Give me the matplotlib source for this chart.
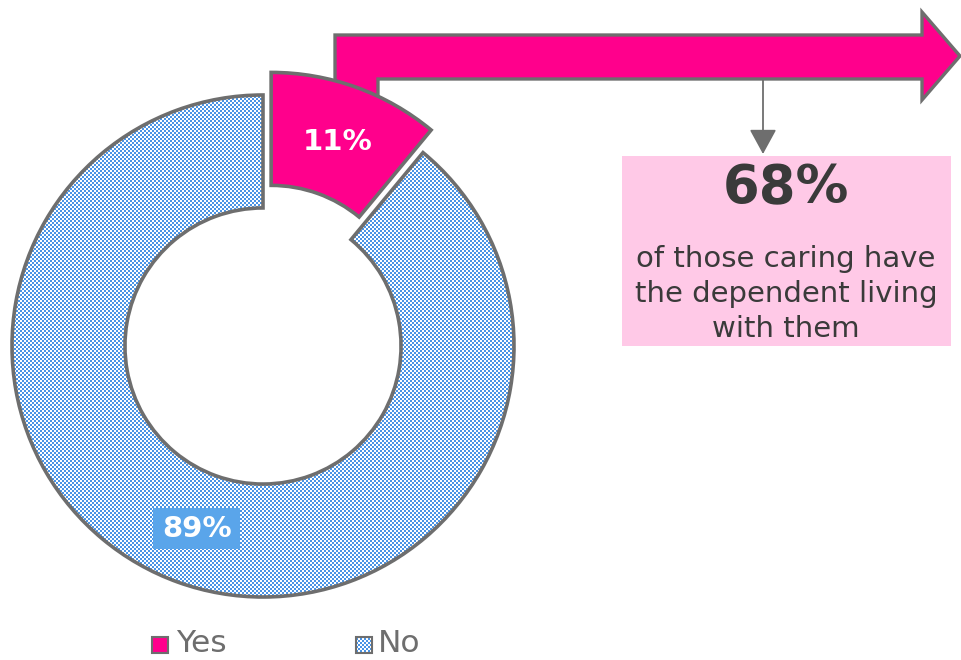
import numpy as np
import matplotlib
matplotlib.use("Agg")
import matplotlib.pyplot as plt
from matplotlib.patches import Polygon, Rectangle, FancyArrowPatch

# Data
categories = ["Yes", "No"]
shares = [11, 89]
share_labels = ["11%", "89%"]
highlight_value = "68%"
highlight_text = ["of those caring have", "the dependent living", "with them"]

PINK = "#FF008C"
BLUE = "#4A94E6"
EDGE = "#6E6E6E"
W, H = 961, 660

fig = plt.figure(figsize=(W / 100, H / 100), dpi=100, facecolor="white")
ax = fig.add_axes([0, 0, 1, 1])


def Y(y):
    # convert top-down pixel rows to axis coordinates
    return H - y


# checkerboard texture used for the "No" fill
ii, jj = np.mgrid[0:H, 0:W]
checks = ((ii // 2 + jj // 2) % 2).astype(bool)
tex = np.ones((H, W, 3))
tex[checks] = np.array(matplotlib.colors.to_rgb(BLUE))

# bent arrow behind the donut
arrow_pts = [(335, 120), (335, 35), (922, 35), (922, 12), (960, 56),
             (922, 100), (922, 79), (378, 79), (378, 120)]
ax.add_patch(Polygon([(x, Y(y)) for x, y in arrow_pts], closed=True,
                     facecolor=PINK, edgecolor=EDGE, linewidth=2.4,
                     joinstyle="miter", zorder=1))

# donut
radius = 251
wedges, _ = ax.pie(shares, startangle=90, counterclock=False, radius=radius,
                   center=(263, Y(346)), explode=[24, 0],
                   colors=[PINK, "none"],
                   wedgeprops=dict(width=radius * 0.45, edgecolor=EDGE,
                                   linewidth=2.6))
ax.set_xlim(0, W)
ax.set_ylim(0, H)
ax.set_aspect("equal")
ax.axis("off")
for w in wedges:
    w.set_zorder(3)
im = ax.imshow(tex, extent=(0, W, 0, H), origin="upper",
               interpolation="nearest", zorder=2)
im.set_clip_path(wedges[1])

# slice labels
ax.text(338, Y(142), share_labels[0], color="white", fontsize=21,
        fontweight="bold", ha="center", va="center", zorder=5)
ax.add_patch(Rectangle((153, Y(549)), 87, 41, facecolor="#5AA5EA",
                       edgecolor="none", zorder=4))
ax.text(197, Y(529), share_labels[1], color="white", fontsize=21,
        fontweight="bold", ha="center", va="center", zorder=5)

# connector and callout box
ax.add_patch(FancyArrowPatch((763, Y(80)), (763, Y(154)),
                             arrowstyle="-|>,head_length=1.1,head_width=0.6",
                             mutation_scale=14, color=EDGE, linewidth=1.3,
                             shrinkA=0, shrinkB=0, zorder=4))
ax.add_patch(Rectangle((622, Y(346)), 329, 190, facecolor="#FFC9E7",
                       edgecolor="none", zorder=1))
ax.text(786, Y(188), highlight_value, color="#3A3A3A", fontsize=38,
        fontweight="bold", ha="center", va="center", zorder=5)
for k, line in enumerate(highlight_text):
    ax.text(786, Y(259 + 35 * k), line, color="#3A3A3A", fontsize=21,
            ha="center", va="center", zorder=5)

# legend
ax.add_patch(Rectangle((152, Y(653)), 16, 16, facecolor=PINK,
                       edgecolor=EDGE, linewidth=1.5, zorder=4))
ax.text(176, Y(652), categories[0], color=EDGE, fontsize=22.5,
        ha="left", va="baseline", zorder=5)
sq = Rectangle((356, Y(653)), 16, 16, facecolor="none",
               edgecolor=EDGE, linewidth=1.5, zorder=4)
ax.add_patch(sq)
im2 = ax.imshow(tex, extent=(0, W, 0, H), origin="upper",
                interpolation="nearest", zorder=3)
im2.set_clip_path(sq)
ax.text(378, Y(652), categories[1], color=EDGE, fontsize=22.5,
        ha="left", va="baseline", zorder=5)

fig.savefig("out.png", dpi=100, facecolor="white")
